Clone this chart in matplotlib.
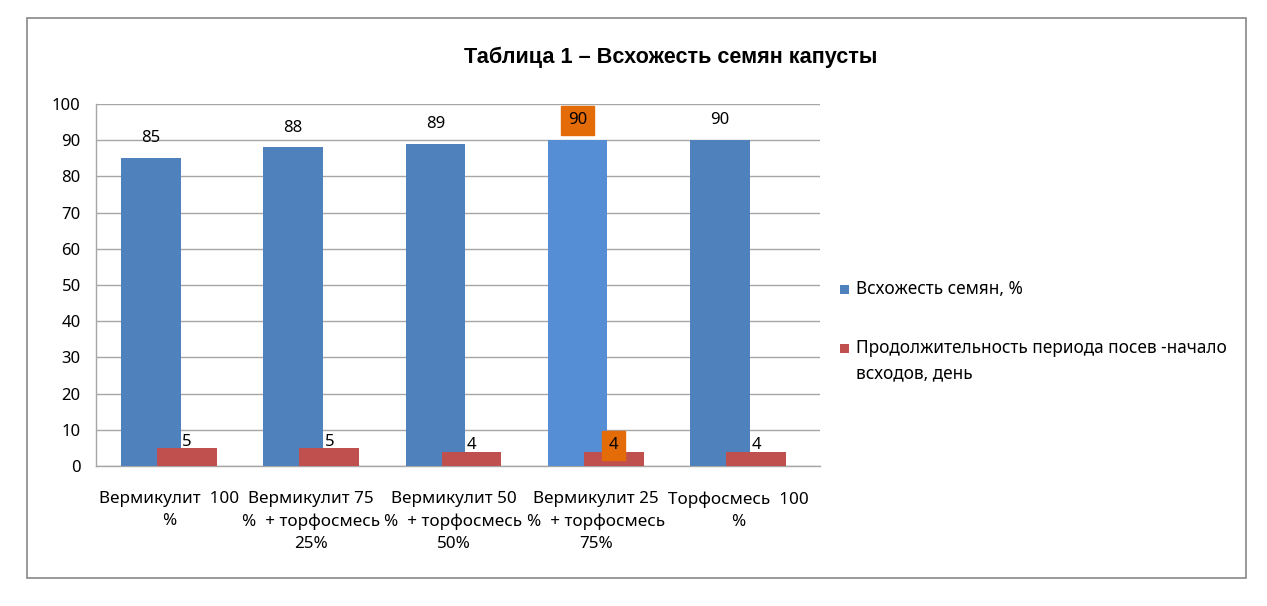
import matplotlib
matplotlib.use("Agg")
import matplotlib.pyplot as plt
from matplotlib.patches import Rectangle
import numpy as np

categories = ["Вермикулит  100\n%", "Вермикулит 75\n%  + торфосмесь\n25%",
              "Вермикулит 50\n%  + торфосмесь\n50%", "Вермикулит 25\n%  + торфосмесь\n75%",
              "Торфосмесь  100\n%"]
germination = [85, 88, 89, 90, 90]
duration = [5, 5, 4, 4, 4]
series_names = ["Всхожесть семян, %", "Продолжительность периода посев -начало\nвсходов, день"]
title = "Таблица 1 – Всхожесть семян капусты"
highlight_idx = 3

BLUE = "#4F81BD"
BLUE_HL = "#558ED5"
RED = "#C0504D"
ORANGE = "#E36C09"
GRID = "#A6A6A6"
FONT = "Noto Sans"
W, H = 1267, 606

plt.rcParams['font.family'] = [FONT, 'DejaVu Sans']

fig = plt.figure(figsize=(W/100, H/100), dpi=100)
fig.patch.set_facecolor("white")
fig.patches.append(Rectangle((27/W, 1-578/H), (1246-27)/W, (578-18)/H,
                             transform=fig.transFigure, fill=False, edgecolor="#888888", lw=1.2))

ax = fig.add_axes([96/W, 1-466/H, (820-96)/W, (466-104)/H])
x = np.arange(len(categories))
w = 0.42
off = 0.127
bcolors = [BLUE_HL if i == highlight_idx else BLUE for i in range(len(x))]
b1 = ax.bar(x - off, germination, width=w, color=bcolors, zorder=3)
b2 = ax.bar(x + off, duration, width=w, color=RED, zorder=4)

ax.set_xlim(-0.513, len(x) - 0.423)
ax.set_ylim(0, 100)
ax.set_yticks(np.arange(0, 101, 10))
ax.tick_params(axis='y', length=0, labelsize=12, pad=11)
ax.tick_params(axis='x', length=0, labelsize=12.3, pad=18)
ax.set_xticks(x)
ax.set_xticklabels(categories, linespacing=1.52)
ax.grid(axis='y', color=GRID, lw=1, zorder=0)
for s in ["top", "right"]:
    ax.spines[s].set_visible(False)
for s in ["left", "bottom"]:
    ax.spines[s].set_color(GRID)
    ax.spines[s].set_linewidth(1)

box = dict(boxstyle="square,pad=0.4", fc=ORANGE, ec=ORANGE)
for i, r in enumerate(b1):
    kw = dict(bbox=box) if i == highlight_idx else {}
    ax.annotate(f"{germination[i]}", (r.get_x() + r.get_width()/2, r.get_height()),
                xytext=(0, 14.3), textcoords="offset points", ha="center", va="center",
                fontsize=12, zorder=6, **kw)
for i, r in enumerate(b2):
    kw = dict(bbox=box) if i == highlight_idx else {}
    ax.annotate(f"{duration[i]}", (r.get_x() + r.get_width()/2, r.get_height()),
                xytext=(0, 4.5), textcoords="offset points", ha="center", va="center",
                fontsize=12, zorder=6, **kw)

fig.text(671/W, 1-57/H, title, ha="center", va="center",
         fontsize=15.6, fontweight="bold", family=["Liberation Sans", "DejaVu Sans"])

# legend (drawn manually so markers align with the first text line)
leg_colors = [BLUE, RED]
leg_y = [289, 348]
for c, yy, name in zip(leg_colors, leg_y, series_names):
    fig.patches.append(Rectangle((840/W, 1-(yy+4.5)/H), 9/W, 9/H,
                                 transform=fig.transFigure, fc=c, ec="none"))
    fig.text(856/W, 1-(yy-9)/H, name, ha="left", va="top", fontsize=12.4,
             linespacing=1.55)

fig.savefig("out.png", dpi=100)
